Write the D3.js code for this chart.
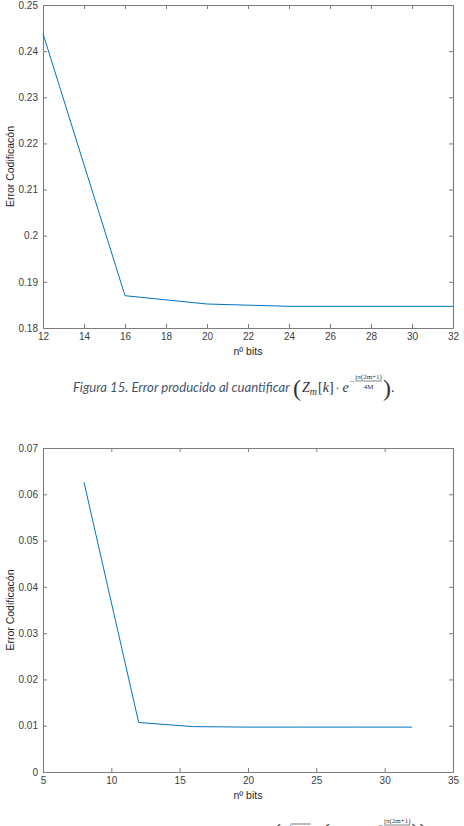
<!DOCTYPE html>
<html>
<head>
<meta charset="utf-8">
<script src="https://cdn.jsdelivr.net/npm/d3@7"></script>
<style>
  body { margin: 0; background: #fff; }
  svg { display: block; }
</style>
</head>
<body>
<div id="chart"></div>
<script>
var width = 464;
var height = 826;

// ---- data ----
var bits1 = [12, 16, 20, 24, 28, 32];
var err1 = [0.2438, 0.1870, 0.1852, 0.1847, 0.1847, 0.1847];
var xTicks1 = [12, 14, 16, 18, 20, 22, 24, 26, 28, 30, 32];
var yTicks1 = [0.18, 0.19, 0.2, 0.21, 0.22, 0.23, 0.24, 0.25];

var bits2 = [8, 12, 16, 20, 24, 28, 32];
var err2 = [0.0626, 0.0107, 0.0098, 0.0097, 0.0097, 0.0097, 0.0097];
var xTicks2 = [5, 10, 15, 20, 25, 30, 35];
var yTicks2 = [0, 0.01, 0.02, 0.03, 0.04, 0.05, 0.06, 0.07];

var xLabel = "nº bits";
var yLabel = "Error Codificacón";
var caption1 = "Figura 15. Error producido al cuantificar";
var caption2 = "Figura 16. Error producido al cuantificar";

var axisFont = "'Liberation Sans', Arial, sans-serif";
var capFont = "Lato, 'Open Sans', sans-serif";
var mathFont = "'Liberation Serif', 'DejaVu Serif', serif";
var lineColor = "#0072BD";
var axisColor = "#7d7d7d";
var labelColor = "#404040";
var capColor = "#44546A";
var mathColor = "#333";

const svg = d3.select("#chart")
  .append("svg")
    .attr("width", width)
    .attr("height", height);

svg.append("rect").attr("width", width).attr("height", height).attr("fill", "#fff");

function fmt(v) { return String(+v.toFixed(2)); }

function drawPlot(box, xs, ys, xTicks, yTicks) {
  var x = d3.scaleLinear().domain([xTicks[0], xTicks[xTicks.length - 1]]).range([box.left, box.right]);
  var y = d3.scaleLinear().domain([yTicks[0], yTicks[yTicks.length - 1]]).range([box.bottom, box.top]);
  var g = svg.append("g");

  var styleAxis = function (a) {
    a.attr("font-family", axisFont).attr("font-size", 10);
    a.selectAll("path.domain").attr("stroke", axisColor).attr("stroke-width", 1.1);
    a.selectAll(".tick line").attr("stroke", axisColor);
    a.selectAll(".tick text").attr("fill", labelColor);
  };

  g.append("g").attr("transform", "translate(0," + box.bottom + ")")
    .call(d3.axisBottom(x).tickValues(xTicks).tickFormat(fmt).tickSize(-4).tickSizeOuter(0).tickPadding(5))
    .call(styleAxis);
  g.append("g").attr("transform", "translate(0," + box.top + ")")
    .call(d3.axisTop(x).tickValues(xTicks).tickFormat("").tickSize(-4).tickSizeOuter(0))
    .call(styleAxis);
  g.append("g").attr("transform", "translate(" + box.left + ",0)")
    .call(d3.axisLeft(y).tickValues(yTicks).tickFormat(fmt).tickSize(-4).tickSizeOuter(0).tickPadding(5))
    .call(styleAxis);
  g.append("g").attr("transform", "translate(" + box.right + ",0)")
    .call(d3.axisRight(y).tickValues(yTicks).tickFormat("").tickSize(-4).tickSizeOuter(0))
    .call(styleAxis);

  var line = d3.line().x(function (d, i) { return x(xs[i]); }).y(function (d) { return y(d); });
  g.append("path").datum(ys)
    .attr("d", line)
    .attr("fill", "none")
    .attr("stroke", lineColor)
    .attr("stroke-width", 1);

  g.append("text")
    .attr("x", (box.left + box.right) / 2)
    .attr("y", box.bottom + 27)
    .attr("text-anchor", "middle")
    .attr("fill", "#262626")
    .style("font-family", axisFont).style("font-size", "10.5px")
    .text(xLabel);

  g.append("text")
    .attr("transform", "translate(14," + ((box.top + box.bottom) / 2) + ") rotate(-90)")
    .attr("text-anchor", "middle")
    .attr("fill", "#262626")
    .style("font-family", axisFont).style("font-size", "10.5px")
    .text(yLabel);
}

drawPlot({left: 43, right: 453, top: 5, bottom: 328}, bits1, err1, xTicks1, yTicks1);
drawPlot({left: 43, right: 453, top: 448, bottom: 772}, bits2, err2, xTicks2, yTicks2);

// ---- captions with the little formulas ----
function piece(g, x, y, t, size, family, style, color) {
  var n = g.append("text").attr("x", x).attr("y", y)
    .attr("fill", color || mathColor)
    .style("font-family", family || mathFont)
    .style("font-size", size + "px")
    .style("font-style", style || "normal")
    .text(t);
  return x + n.node().getComputedTextLength();
}

function frac(g, x, y, num, den, size) {
  var a = g.append("text").attr("y", y - 5).attr("fill", mathColor)
    .style("font-family", mathFont).style("font-size", size + "px").text(num);
  var b = g.append("text").attr("y", y + size - 2).attr("fill", mathColor)
    .style("font-family", mathFont).style("font-size", size + "px").text(den);
  var w = Math.max(a.node().getComputedTextLength(), b.node().getComputedTextLength());
  a.attr("x", x + w / 2).attr("text-anchor", "middle");
  b.attr("x", x + w / 2).attr("text-anchor", "middle");
  g.append("line").attr("x1", x).attr("x2", x + w).attr("y1", y - 3).attr("y2", y - 3)
    .attr("stroke", mathColor).attr("stroke-width", 0.6);
  return x + w;
}

function expTerm(g, x, y) {
  x = piece(g, x, y, "Z", 14, mathFont, "italic");
  x = piece(g, x, y + 3, "m", 10, mathFont, "italic");
  x = piece(g, x + 1, y, "[", 14);
  x = piece(g, x, y, "k", 14, mathFont, "italic");
  x = piece(g, x, y, "]", 14);
  x = piece(g, x + 2, y, "·", 12);
  x = piece(g, x + 3, y, "e", 14, mathFont, "italic");
  x = piece(g, x + 1, y - 8, "−", 8);
  x = frac(g, x + 1, y - 8, "jπ(2m+1)", "4M", 7);
  return x;
}

function caption(y, text, left, textW, extra) {
  var g = svg.append("g");
  var t = g.append("text").attr("x", left).attr("y", y)
    .attr("fill", capColor)
    .style("font-family", capFont).style("font-style", "italic")
    .style("font-size", "12px").text(text);
  var s = 12 * textW / t.node().getComputedTextLength();
  t.style("font-size", s + "px");
  var x = left + textW + 3;
  x = piece(g, x, y + 4, "(", 24);
  if (extra) {
    x = piece(g, x + 2, y, "√", 14);
    g.append("line").attr("x1", x).attr("x2", x + 20).attr("y1", y - 12).attr("y2", y - 12)
      .attr("stroke", mathColor).attr("stroke-width", 0.7);
    x = piece(g, x + 1, y, "c[k]", 12, mathFont, "italic");
    x = piece(g, x + 3, y, "·", 12);
    x = piece(g, x + 3, y + 4, "(", 24);
  }
  x = expTerm(g, x + 1, y);
  x = piece(g, x + 1, y + 4, ")", 24);
  if (extra) x = piece(g, x, y + 4, ")", 24);
  piece(g, x, y, ".", 14);
}

caption(392, caption1, 73, 217, false);
caption(836, caption2, 53, 217, true);
</script>
</body>
</html>
